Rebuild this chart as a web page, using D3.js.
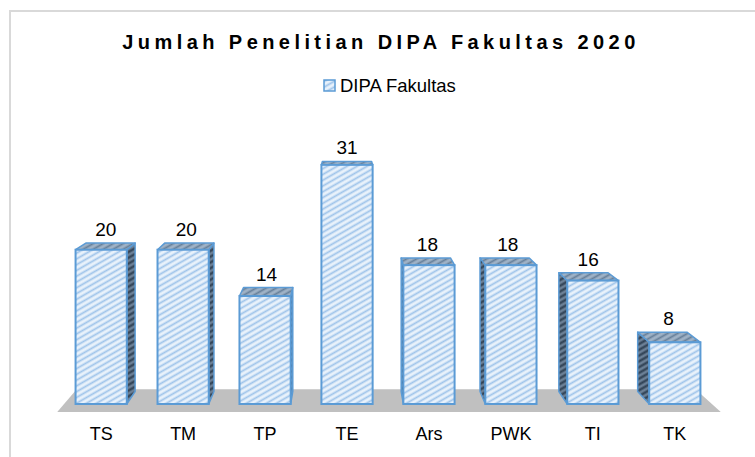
<!DOCTYPE html>
<html>
<head>
<meta charset="utf-8">
<script src="https://cdn.jsdelivr.net/npm/d3@7"></script>
<style>
  body { margin: 0; background: #fff; }
  text { font-family: "Liberation Sans", Arial, sans-serif; fill: #000; }
</style>
</head>
<body>
<div id="chart"></div>
<script>
// size of svg
const width = 755; const height = 457;

// data
const categories = ["TS", "TM", "TP", "TE", "Ars", "PWK", "TI", "TK"];
const values = [20, 20, 14, 31, 18, 18, 16, 8];
const seriesName = "DIPA Fakultas";
const titleText = "Jumlah Penelitian DIPA Fakultas 2020";

// perspective settings (vanishing point and depth scale)
const vp = [346, 75];
const sBack = 0.962;     // bar back face
const sFloorFront = 1.024;
const sFloorBack = 0.955;

const svg = d3.select("#chart").append("svg")
    .attr("width", width)
    .attr("height", height);

const defs = svg.append("defs");
// hatch patterns: front, side, top
function hatch(id, bg, line, w) {
    const p = defs.append("pattern")
        .attr("id", id)
        .attr("patternUnits", "userSpaceOnUse")
        .attr("width", 5).attr("height", 5)
        .attr("patternTransform", "rotate(-30)");
    p.append("rect").attr("width", 5).attr("height", 5).attr("fill", bg);
    p.append("line").attr("x1", 0).attr("y1", 2.5).attr("x2", 5).attr("y2", 2.5)
        .attr("stroke", line).attr("stroke-width", w);
}
hatch("hFront", "#e9f2fb", "#9fc4ea", 1.8);
hatch("hSide", "#6c8096", "#2f4154", 2.2);
hatch("hTop", "#9fb2c6", "#667f99", 1.8);

// chart border
svg.append("rect")
    .attr("x", 10).attr("y", 11)
    .attr("width", 800).attr("height", 500)
    .attr("fill", "none")
    .attr("stroke", "#d9d9d9")
    .attr("stroke-width", 2);

// scales
const x = d3.scaleBand()
    .domain(categories)
    .range([60, 716])
    .paddingInner(0.375)
    .paddingOuter(0.19);

const y = d3.scaleLinear()
    .domain([0, 35])
    .range([404, 134]);

function proj(p, s) {
    return [vp[0] + (p[0] - vp[0]) * s, vp[1] + (p[1] - vp[1]) * s];
}
const line = d3.line();

// floor
const fx0 = x.range()[0] + 4, fx1 = x.range()[1] - 4, fy = y(0);
const floorPts = [
    proj([fx0, fy], sFloorFront), proj([fx1, fy], sFloorFront),
    proj([fx1, fy], sFloorBack), proj([fx0, fy], sFloorBack)
];
svg.append("path")
    .attr("d", line(floorPts) + "Z")
    .attr("fill", "#c0c0c0");

// bars
const bars = svg.append("g");
categories.forEach(function(c, i) {
    const x0 = x(c), x1 = x(c) + x.bandwidth();
    const yt = y(values[i]), yb = y(0);
    const g = bars.append("g");
    // side face
    let side;
    if (x1 < vp[0]) {
        side = [[x1, yt], proj([x1, yt], sBack), proj([x1, yb], sBack), [x1, yb]];
    } else if (x0 > vp[0]) {
        side = [[x0, yt], proj([x0, yt], sBack), proj([x0, yb], sBack), [x0, yb]];
    }
    if (side) {
        g.append("path").attr("d", line(side) + "Z")
            .attr("fill", "url(#hSide)")
            .attr("stroke", "#5b9bd5").attr("stroke-width", 1.5)
            .attr("stroke-linejoin", "round");
    }
    // top face
    const top = [[x0, yt], [x1, yt], proj([x1, yt], sBack), proj([x0, yt], sBack)];
    g.append("path").attr("d", line(top) + "Z")
        .attr("fill", "url(#hTop)")
        .attr("stroke", "#5b9bd5").attr("stroke-width", 1.5)
        .attr("stroke-linejoin", "round");
    // front face
    g.append("rect")
        .attr("x", x0).attr("y", yt)
        .attr("width", x.bandwidth()).attr("height", yb - yt)
        .attr("fill", "url(#hFront)")
        .attr("stroke", "#5b9bd5").attr("stroke-width", 2);
    // value label
    const b = proj([(x0 + x1) / 2, yt], sBack);
    svg.append("text")
        .attr("x", ((x0 + x1) / 2 + b[0]) / 2)
        .attr("y", b[1] - 7)
        .attr("text-anchor", "middle")
        .attr("font-size", "19px")
        .text(values[i]);
    // category label
    svg.append("text")
        .attr("x", x(c) + x.bandwidth() / 2)
        .attr("y", 440)
        .attr("text-anchor", "middle")
        .attr("font-size", "18px")
        .text(c);
});

// title (letter spaced to fit original width)
const title = svg.append("text")
    .attr("x", 381).attr("y", 49)
    .attr("text-anchor", "middle")
    .attr("font-size", "20px")
    .attr("font-weight", "bold")
    .text(titleText);
const natural = title.node().getComputedTextLength();
title.attr("letter-spacing", ((513 - natural) / (titleText.length - 1)) + "px");

// legend
svg.append("rect")
    .attr("x", 324).attr("y", 80)
    .attr("width", 11).attr("height", 11)
    .attr("fill", "url(#hFront)")
    .attr("stroke", "#5b9bd5").attr("stroke-width", 1.5);
svg.append("text")
    .attr("x", 340).attr("y", 92)
    .attr("font-size", "18.5px")
    .text(seriesName);
</script>
</body>
</html>
